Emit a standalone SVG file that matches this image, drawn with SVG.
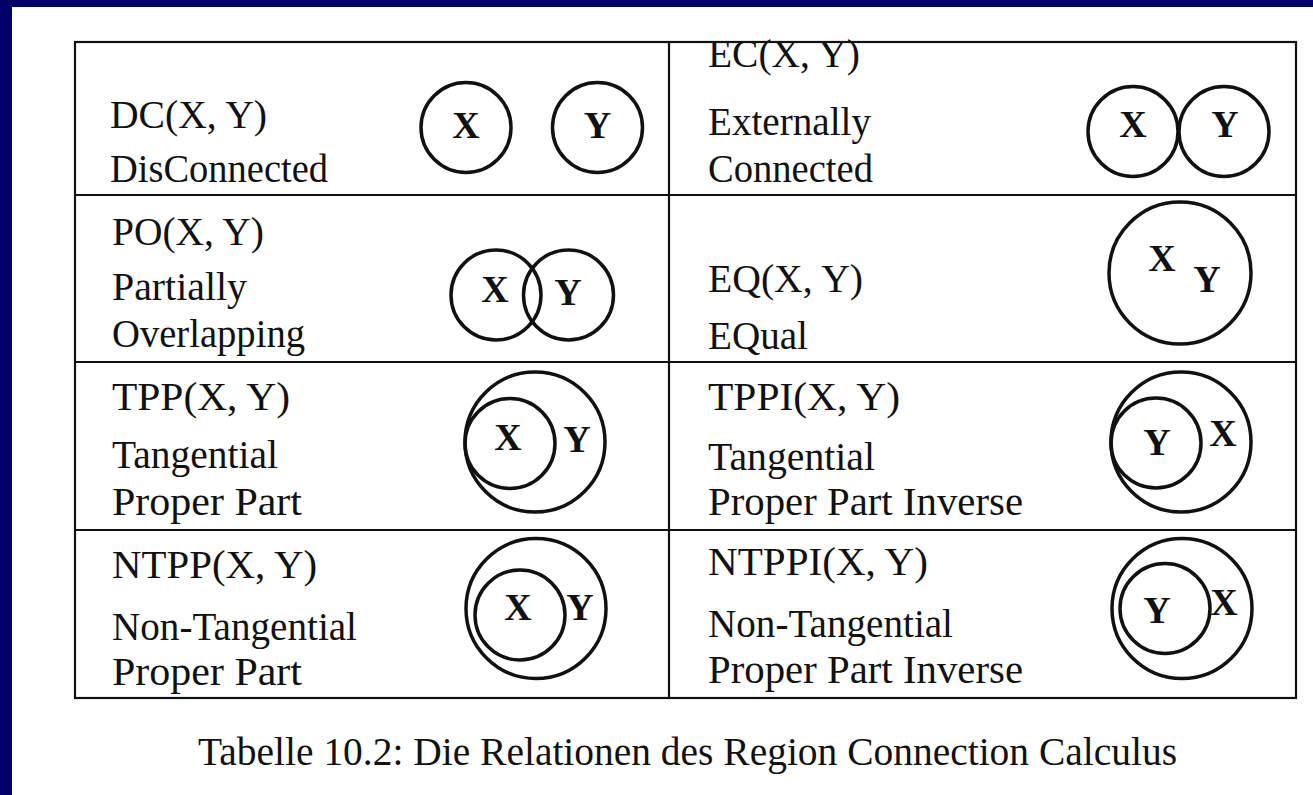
<svg xmlns="http://www.w3.org/2000/svg" width="1313" height="795" viewBox="0 0 1313 795">
<style>
.t{font-family:"Liberation Serif","Times New Roman",serif;font-size:39px;fill:#111}
.l{font-family:"Liberation Serif","Times New Roman",serif;font-size:38px;font-weight:bold;fill:#111;text-anchor:middle}
.c{fill:none;stroke:#111;stroke-width:3.5}
.g{fill:none;stroke:#111;stroke-width:2.2}
</style>
<rect x="0" y="0" width="1313" height="795" fill="#ffffff"/>
<rect x="0" y="0" width="1313" height="7" fill="#000068"/>
<rect x="0" y="0" width="12" height="795" fill="#000068"/>
<g id="table-grid">
<rect class="g" x="75" y="42" width="1221" height="656"/>
<line class="g" x1="669" y1="42" x2="669" y2="698"/>
<line class="g" x1="75" y1="195" x2="1296" y2="195"/>
<line class="g" x1="75" y1="362" x2="1296" y2="362"/>
<line class="g" x1="75" y1="530" x2="1296" y2="530"/>
</g>
<g id="dc">
<text class="t" x="110" y="128" textLength="157" lengthAdjust="spacingAndGlyphs">DC(X, Y)</text>
<text class="t" x="110" y="182" textLength="218" lengthAdjust="spacingAndGlyphs">DisConnected</text>
<circle class="c" cx="466" cy="127.5" r="45"/>
<circle class="c" cx="597.5" cy="127.5" r="45"/>
<text class="l" x="466" y="138">X</text>
<text class="l" x="597.5" y="138">Y</text>
</g>
<g id="ec">
<text class="t" x="708" y="67" textLength="152" lengthAdjust="spacingAndGlyphs">EC(X, Y)</text>
<text class="t" x="708" y="135" textLength="163" lengthAdjust="spacingAndGlyphs">Externally</text>
<text class="t" x="708" y="182" textLength="165" lengthAdjust="spacingAndGlyphs">Connected</text>
<circle class="c" cx="1133" cy="131.5" r="45"/>
<circle class="c" cx="1224" cy="131.5" r="45"/>
<text class="l" x="1133" y="137">X</text>
<text class="l" x="1225" y="137">Y</text>
</g>
<g id="po">
<text class="t" x="112" y="245" textLength="152" lengthAdjust="spacingAndGlyphs">PO(X, Y)</text>
<text class="t" x="112" y="300" textLength="135" lengthAdjust="spacingAndGlyphs">Partially</text>
<text class="t" x="112" y="347" textLength="193" lengthAdjust="spacingAndGlyphs">Overlapping</text>
<circle class="c" cx="496" cy="295" r="45"/>
<circle class="c" cx="568.5" cy="295" r="45"/>
<text class="l" x="495" y="302">X</text>
<text class="l" x="568" y="305">Y</text>
</g>
<g id="eq">
<text class="t" x="708" y="292" textLength="155" lengthAdjust="spacingAndGlyphs">EQ(X, Y)</text>
<text class="t" x="708" y="349" textLength="100" lengthAdjust="spacingAndGlyphs">EQual</text>
<circle class="c" cx="1180" cy="273" r="71"/>
<text class="l" x="1162" y="271">X</text>
<text class="l" x="1207" y="292">Y</text>
</g>
<g id="tpp">
<text class="t" x="112" y="410" textLength="178" lengthAdjust="spacingAndGlyphs">TPP(X, Y)</text>
<text class="t" x="112" y="468" textLength="166" lengthAdjust="spacingAndGlyphs">Tangential</text>
<text class="t" x="112" y="515" textLength="190" lengthAdjust="spacingAndGlyphs">Proper Part</text>
<circle class="c" cx="535" cy="442" r="70"/>
<circle class="c" cx="510" cy="443.5" r="45"/>
<text class="l" x="508" y="450">X</text>
<text class="l" x="577" y="452">Y</text>
</g>
<g id="tppi">
<text class="t" x="708" y="410" textLength="192" lengthAdjust="spacingAndGlyphs">TPPI(X, Y)</text>
<text class="t" x="708" y="470" textLength="167" lengthAdjust="spacingAndGlyphs">Tangential</text>
<text class="t" x="708" y="515" textLength="315" lengthAdjust="spacingAndGlyphs">Proper Part Inverse</text>
<circle class="c" cx="1181" cy="442" r="70"/>
<circle class="c" cx="1156" cy="443" r="45"/>
<text class="l" x="1157" y="455">Y</text>
<text class="l" x="1223" y="446">X</text>
</g>
<g id="ntpp">
<text class="t" x="112" y="578" textLength="205" lengthAdjust="spacingAndGlyphs">NTPP(X, Y)</text>
<text class="t" x="112" y="640" textLength="245" lengthAdjust="spacingAndGlyphs">Non-Tangential</text>
<text class="t" x="112" y="685" textLength="190" lengthAdjust="spacingAndGlyphs">Proper Part</text>
<circle class="c" cx="536" cy="608.5" r="70"/>
<circle class="c" cx="520" cy="615" r="45"/>
<text class="l" x="518" y="620">X</text>
<text class="l" x="580" y="620">Y</text>
</g>
<g id="ntppi">
<text class="t" x="708" y="575" textLength="220" lengthAdjust="spacingAndGlyphs">NTPPI(X, Y)</text>
<text class="t" x="708" y="637" textLength="245" lengthAdjust="spacingAndGlyphs">Non-Tangential</text>
<text class="t" x="708" y="683" textLength="315" lengthAdjust="spacingAndGlyphs">Proper Part Inverse</text>
<circle class="c" cx="1182" cy="608.5" r="70"/>
<circle class="c" cx="1165" cy="608.5" r="45"/>
<text class="l" x="1157" y="623">Y</text>
<text class="l" x="1224" y="615">X</text>
</g>
<g id="caption">
<text class="t" x="687.5" y="765" text-anchor="middle" textLength="979" lengthAdjust="spacingAndGlyphs">Tabelle 10.2: Die Relationen des Region Connection Calculus</text>
</g>
<g id="connectors"/>
</svg>
